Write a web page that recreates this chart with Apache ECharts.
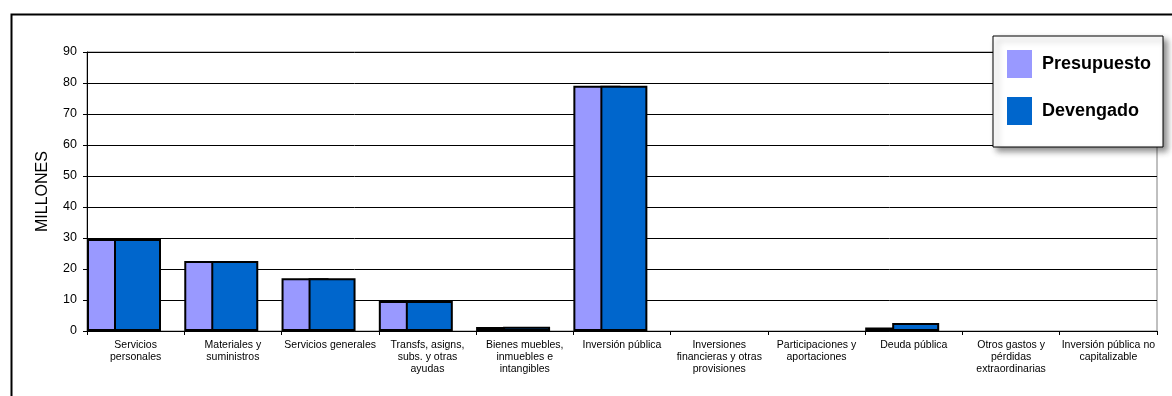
<!DOCTYPE html>
<html>
<head>
<meta charset="utf-8">
<script src="https://cdn.jsdelivr.net/npm/echarts@6/dist/echarts.min.js"></script>
<style>
html,body{margin:0;padding:0;background:#fff;}
#c{width:1172px;height:396px;}
</style>
</head>
<body>
<div id="c"></div>
<script>
var categories = [
  "Servicios\npersonales",
  "Materiales y\nsuministros",
  "Servicios generales",
  "Transfs, asigns,\nsubs. y otras\nayudas",
  "Bienes muebles,\ninmuebles e\nintangibles",
  "Inversión pública",
  "Inversiones\nfinancieras y otras\nprovisiones",
  "Participaciones y\naportaciones",
  "Deuda pública",
  "Otros gastos y\npérdidas\nextraordinarias",
  "Inversión pública no\ncapitalizable"
];
var presupuesto = [29.7, 22.6, 17.0, 9.7, 1.3, 79.1, 0, 0, 1.1, 0, 0];
var devengado   = [29.7, 22.6, 17.0, 9.7, 1.4, 79.1, 0, 0, 2.6, 0, 0];
var seriesNames = ["Presupuesto", "Devengado"];
var yMin = 0, yMax = 90, yStep = 10;

var FONT = "Liberation Sans, Arial, sans-serif";
var chart = echarts.init(document.getElementById('c'), null, {renderer: 'canvas'});
var gl = 87, gr = 1172 - 1157, gt = 52, gb = 396 - 331;
var catW = (1172 - gl - gr) / categories.length;
var shift = (catW - 74) / 2;

function toItems(arr) {
  return arr.map(function (v) {
    return v === 0 ? {value: v, itemStyle: {borderWidth: 0}} : v;
  });
}

chart.setOption({
  backgroundColor: '#fff',
  animation: false,
  graphic: [{
    type: 'rect', left: 9, top: 12, z: 100,
    shape: {width: 1200, height: 420},
    style: {fill: 'none', stroke: '#000', lineWidth: 2}
  }],
  grid: [
    {left: gl, right: gr, top: gt, bottom: gb, show: true, borderColor: '#808080', borderWidth: 1, backgroundColor: 'transparent'},
    {left: gl - shift, right: gr + shift, top: gt, bottom: gb}
  ],
  legend: {
    data: seriesNames,
    orient: 'vertical',
    left: 993, top: 36,
    padding: [14, 12, 22, 14],
    itemWidth: 25, itemHeight: 28, itemGap: 19,
    backgroundColor: '#fff', borderColor: '#000', borderWidth: 1,
    shadowColor: 'rgba(0,0,0,0.45)', shadowBlur: 6, shadowOffsetX: 4, shadowOffsetY: 4,
    itemStyle: {borderWidth: 0},
    textStyle: {fontFamily: FONT, fontSize: 18, fontWeight: 'bold', color: '#000', padding: [0,0,0,5]},
    icon: 'rect',
    selectedMode: false
  },
  xAxis: [
    {
      type: 'category', gridIndex: 0, data: categories,
      axisLine: {lineStyle: {color: '#000', width: 1}},
      axisTick: {show: true, length: 4, lineStyle: {color: '#000'}},
      axisLabel: {fontFamily: FONT, fontSize: 10.5, lineHeight: 12, color: '#000', interval: 0, margin: 8},
      splitLine: {show: false}
    },
    {
      type: 'category', gridIndex: 1, data: categories, show: false
    }
  ],
  yAxis: [
    {
      type: 'value', gridIndex: 0, min: yMin, max: yMax, interval: yStep,
      name: 'MILLONES', nameLocation: 'middle', nameGap: 36, nameRotate: 90,
      nameTextStyle: {fontFamily: FONT, fontSize: 16, color: '#000'},
      axisLine: {show: true, lineStyle: {color: '#000', width: 1}},
      axisTick: {show: true, length: 4, lineStyle: {color: '#000'}},
      axisLabel: {fontFamily: FONT, fontSize: 12.5, color: '#000', margin: 10},
      splitLine: {show: true, lineStyle: {color: '#000', width: 1}}
    },
    {
      type: 'value', gridIndex: 1, min: yMin, max: yMax, interval: yStep, show: false
    }
  ],
  series: [
    {
      name: seriesNames[0], type: 'bar', xAxisIndex: 1, yAxisIndex: 1,
      data: toItems(presupuesto), barWidth: 47, barGap: '-42.55%',
      itemStyle: {color: '#9999FF', borderColor: '#000', borderWidth: 2}
    },
    {
      name: seriesNames[1], type: 'bar', xAxisIndex: 1, yAxisIndex: 1,
      data: toItems(devengado), barWidth: 47, barGap: '-42.55%',
      itemStyle: {color: '#0066CC', borderColor: '#000', borderWidth: 2}
    }
  ]
});
</script>
</body>
</html>
